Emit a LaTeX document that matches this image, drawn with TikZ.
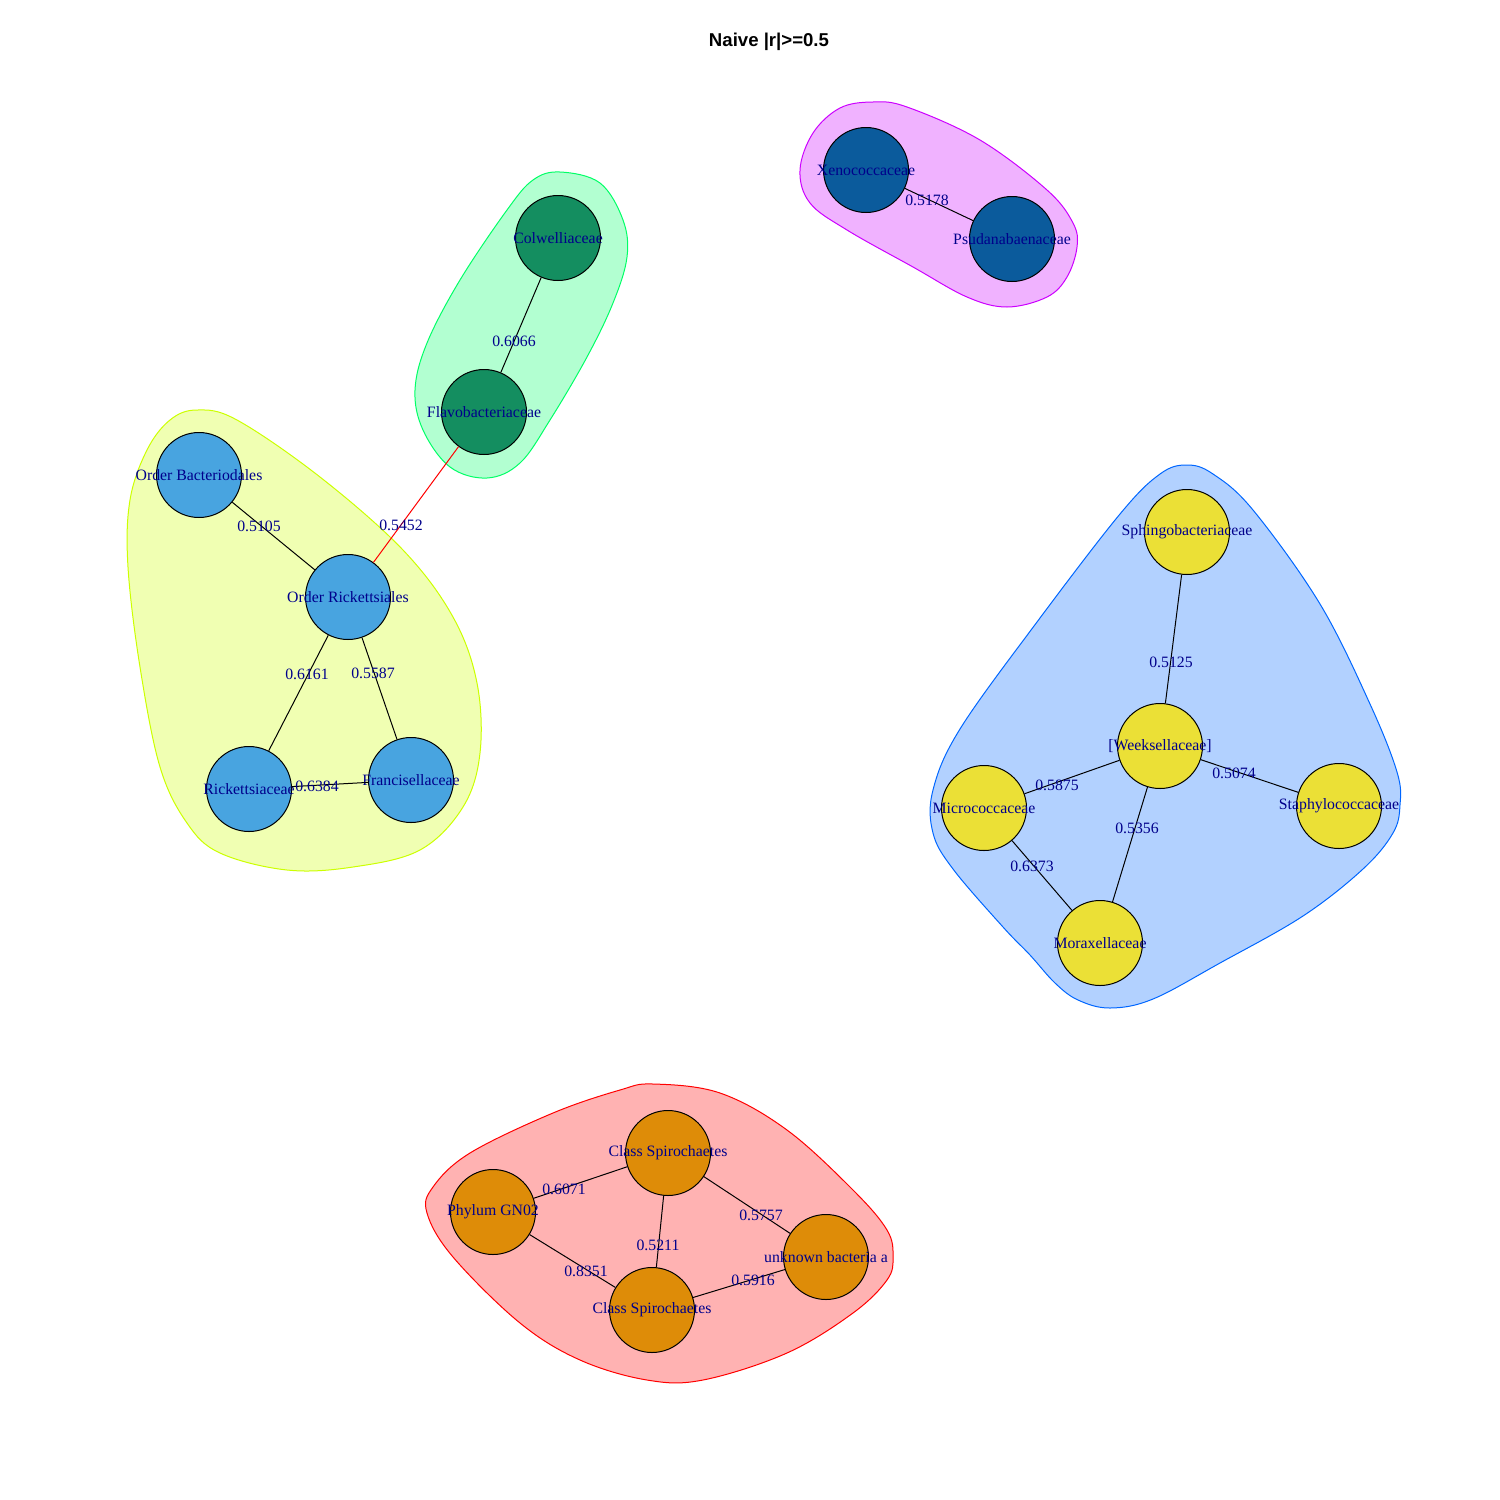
\documentclass[tikz,border=0pt]{standalone}
\usepackage{fontspec}
\setmainfont{Liberation Serif}
\newfontfamily\titlefont{Liberation Sans}
\definecolor{hullred}{HTML}{FF0000}
\definecolor{hullyel}{HTML}{CCFF00}
\definecolor{hullgrn}{HTML}{00FF66}
\definecolor{hullblu}{HTML}{0066FF}
\definecolor{hullmag}{HTML}{CC00FF}
\definecolor{vorange}{HTML}{DE8C08}
\definecolor{vsky}{HTML}{48A4E0}
\definecolor{vgreen}{HTML}{148E60}
\definecolor{vyellow}{HTML}{EBE036}
\definecolor{vblue}{HTML}{0B5B9C}
\definecolor{labblue}{HTML}{00008B}
\newcommand{\nlab}[1]{\makebox[0pt]{#1}}
\begin{document}
\begin{tikzpicture}[x=0.5pt, y=-0.5pt,
    taxon/.style={circle, draw=black, line width=0.5pt, inner sep=0pt, minimum size=42.5pt,
      text=labblue, font=\fontsize{7.9}{9}\selectfont},
    weight/.style={inner sep=0pt, text=labblue, font=\fontsize{7.9}{9}\selectfont},
    hull/.style={line width=0.5pt, smooth cycle, tension=0.6},
    link/.style={line width=0.5pt}]
    \useasboundingbox (0,0) rectangle (1500,1500);

    % Title
    \node[font=\titlefont\bfseries\fontsize{9.3}{11}\selectfont] (title) at (769,42) {Naive |r|>=0.5};

    % Group hulls
    \draw[hull, draw=hullmag, fill=hullmag, fill opacity=0.3] plot coordinates {
      (800,170) (813,133) (840,108) (873,102) (907,107) (980,140) (1047,190) (1073,223)
      (1077,247) (1067,277) (1047,297) (1007,307) (967,297) (913,267) (847,230) (810,203)};
    \draw[hull, draw=hullgrn, fill=hullgrn, fill opacity=0.3] plot coordinates {
      (560,172) (600,183) (623,220) (627,257) (613,303) (587,357) (550,420) (520,463)
      (487,478) (450,467) (423,430) (415,390) (427,343) (460,280) (507,210) (533,180)};
    \draw[hull, draw=hullyel, fill=hullyel, fill opacity=0.3] plot coordinates {
      (197,410) (237,420) (320,477) (403,550) (453,617) (477,683) (480,753) (463,807)
      (420,850) (353,867) (287,870) (220,853) (187,823) (160,767) (140,667) (128,567)
      (130,500) (147,450) (170,420)};
    \draw[hull, draw=hullblu, fill=hullblu, fill opacity=0.3] plot coordinates {
      (1187,465) (1213,474) (1253,510) (1320,604) (1370,704) (1397,772) (1400,805)
      (1393,833) (1363,869) (1303,916) (1220,963) (1153,999) (1110,1008) (1078,1000)
      (1055,983) (1030,955) (1003,927) (953,869) (933,833) (933,790) (960,729) (1037,622)
      (1120,514) (1160,474)};
    \draw[hull, draw=hullred, fill=hullred, fill opacity=0.3] plot coordinates {
      (653,1084) (720,1093) (787,1130) (853,1190) (887,1230) (893,1257) (887,1280)
      (853,1313) (787,1353) (703,1380) (647,1380) (580,1360) (520,1323) (453,1257)
      (427,1213) (433,1187) (470,1153) (553,1113) (620,1090)};

    % Taxa
    \node[taxon, fill=vblue] (xeno) at (866,170) {\nlab{Xenococcaceae}};
    \node[taxon, fill=vblue] (psuda) at (1012,239) {\nlab{Psudanabaenaceae}};

    \node[taxon, fill=vgreen] (colw) at (558,238) {\nlab{Colwelliaceae}};
    \node[taxon, fill=vgreen] (flavo) at (484,412) {\nlab{Flavobacteriaceae}};

    \node[taxon, fill=vsky] (bact) at (199,475) {\nlab{Order Bacteriodales}};
    \node[taxon, fill=vsky] (rick) at (348,597) {\nlab{Order Rickettsiales}};
    \node[taxon, fill=vsky] (rickac) at (249,789) {\nlab{Rickettsiaceae}};
    \node[taxon, fill=vsky] (franc) at (411,780) {\nlab{Francisellaceae}};

    \node[taxon, fill=vyellow] (sphingo) at (1187,532) {\nlab{Sphingobacteriaceae}};
    \node[taxon, fill=vyellow] (weeks) at (1160,746) {\nlab{[Weeksellaceae]}};
    \node[taxon, fill=vyellow] (micro) at (984,808) {\nlab{Micrococcaceae}};
    \node[taxon, fill=vyellow] (staph) at (1339,806) {\nlab{Staphylococcaceae}};
    \node[taxon, fill=vyellow] (morax) at (1100,943) {\nlab{Moraxellaceae}};

    \node[taxon, fill=vorange] (spiroA) at (668,1153) {\nlab{Class Spirochaetes}};
    \node[taxon, fill=vorange] (gnzero) at (493,1212) {\nlab{Phylum GN02}};
    \node[taxon, fill=vorange] (unknown) at (826,1257) {\nlab{unknown bacteria a}};
    \node[taxon, fill=vorange] (spiroB) at (652,1310) {\nlab{Class Spirochaetes}};

    % Correlations
    \draw[link] (xeno) -- (psuda);
    \draw[link] (colw) -- (flavo);
    \draw[link, red] (flavo) -- (rick);
    \draw[link] (bact) -- (rick);
    \draw[link] (rick) -- (rickac);
    \draw[link] (rick) -- (franc);
    \draw[link] (rickac) -- (franc);
    \draw[link] (sphingo) -- (weeks);
    \draw[link] (weeks) -- (micro);
    \draw[link] (weeks) -- (staph);
    \draw[link] (weeks) -- (morax);
    \draw[link] (micro) -- (morax);
    \draw[link] (spiroA) -- (gnzero);
    \draw[link] (spiroA) -- (unknown);
    \draw[link] (spiroA) -- (spiroB);
    \draw[link] (gnzero) -- (spiroB);
    \draw[link] (unknown) -- (spiroB);

    % Edge weights
    \node[weight] (w1) at (927,200) {0.5178};
    \node[weight] (w2) at (514,341) {0.6066};
    \node[weight] (w3) at (401,525) {0.5452};
    \node[weight] (w4) at (259,526) {0.5105};
    \node[weight] (w5) at (307,674) {0.6161};
    \node[weight] (w6) at (373,673) {0.5587};
    \node[weight] (w7) at (317,786) {0.6384};
    \node[weight] (w8) at (1171,662) {0.5125};
    \node[weight] (w9) at (1057,785) {0.5875};
    \node[weight] (w10) at (1234,773) {0.5074};
    \node[weight] (w11) at (1137,828) {0.5356};
    \node[weight] (w12) at (1032,866) {0.6373};
    \node[weight] (w13) at (564,1189) {0.6071};
    \node[weight] (w14) at (761,1215) {0.5757};
    \node[weight] (w15) at (658,1245) {0.5211};
    \node[weight] (w16) at (586,1271) {0.8351};
    \node[weight] (w17) at (753,1280) {0.5916};
\end{tikzpicture}
\end{document}
